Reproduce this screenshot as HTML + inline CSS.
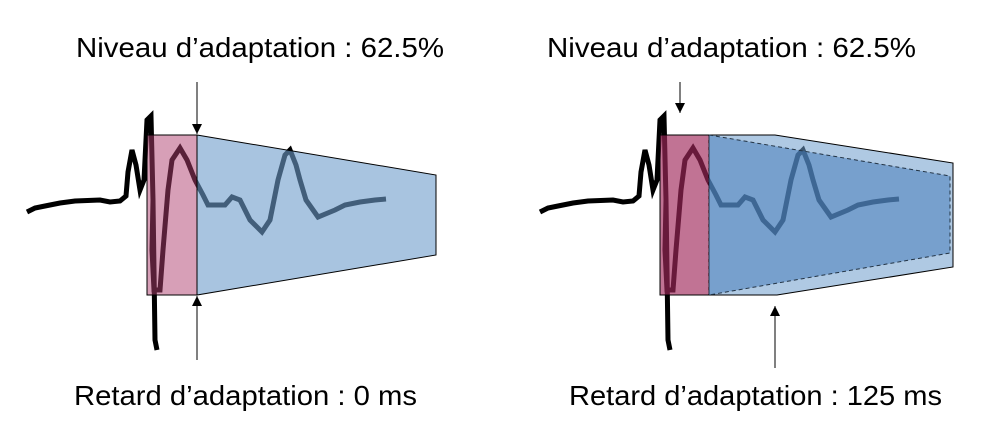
<!DOCTYPE html>
<html><head><meta charset="utf-8"><style>
body{margin:0;background:#fff;width:982px;height:438px;overflow:hidden}
svg{display:block}
text{font-family:"Liberation Sans",sans-serif;font-size:28px;fill:#000}
</style></head><body>
<svg width="982" height="438" viewBox="0 0 982 438">
<defs>
<marker id="a" markerWidth="10" markerHeight="10" refX="10" refY="5" orient="auto" markerUnits="userSpaceOnUse"><path d="M0,0 L10,5 L0,10 z" fill="#000"/></marker>
<g id="wave">
<path d="M27,212 L35,208 L45,206 L60,203 L75,201 L100,200 L110,202 L120,201 L126,196 L128,172 L132,150 L136,165 L140,190 L144,180 L147,120 L151,116 L153,200 L155,340 L157,350" fill="none" stroke="#000" stroke-width="5"/>
<path d="M153,200 L152,250 L154,290 L160,290 L163,250 L168,190 L172,160 L180,148 L187,160 L195,180 L203,195 L208,205 L225,205 L232,197 L240,200 L250,220 L262,232 L270,220 L278,180 L285,155 L290,150 L296,165 L300,180 L306,200 L318,217 L335,210 L345,205 L360,202 L375,200 L386,199" fill="none" stroke="#000" stroke-width="5"/>
</g>
</defs>
<!-- left -->
<use href="#wave"/>
<polygon points="147,135 197,135 197,295 147,295" fill="#b04070" fill-opacity="0.5" stroke="#000" stroke-width="1"/>
<polygon points="197,135 436,175 436,255 197,295" fill="#6e9ccc" fill-opacity="0.6" stroke="#000" stroke-width="1"/>
<line x1="197" y1="82" x2="197" y2="134" stroke="#000" marker-end="url(#a)"/>
<line x1="197" y1="360" x2="197" y2="296" stroke="#000" marker-end="url(#a)"/>
<text x="76" y="57" textLength="368" lengthAdjust="spacingAndGlyphs">Niveau d’adaptation : 62.5%</text>
<text x="74" y="405" textLength="343" lengthAdjust="spacingAndGlyphs">Retard d’adaptation : 0 ms</text>
<!-- right -->
<g transform="translate(513,0)"><use href="#wave"/></g>
<polygon points="660,135 709,135 709,295 660,295" fill="#a0285a" fill-opacity="0.65" stroke="#000" stroke-width="1"/>
<polygon points="709,135 775,135 953,163 953,267 777,295 709,295" fill="#6e9ccc" fill-opacity="0.55" stroke="#000" stroke-width="1"/>
<polygon points="709,135 950,176 950,253 709,295" fill="#3f78b8" fill-opacity="0.5" stroke="#234" stroke-width="1" stroke-dasharray="4,3"/>
<line x1="680" y1="82" x2="680" y2="113" stroke="#000" marker-end="url(#a)"/>
<line x1="775" y1="368" x2="775" y2="306" stroke="#000" marker-end="url(#a)"/>
<text x="547" y="57" textLength="369" lengthAdjust="spacingAndGlyphs">Niveau d’adaptation : 62.5%</text>
<text x="569" y="405" textLength="373" lengthAdjust="spacingAndGlyphs">Retard d’adaptation : 125 ms</text>
</svg>
</body></html>
